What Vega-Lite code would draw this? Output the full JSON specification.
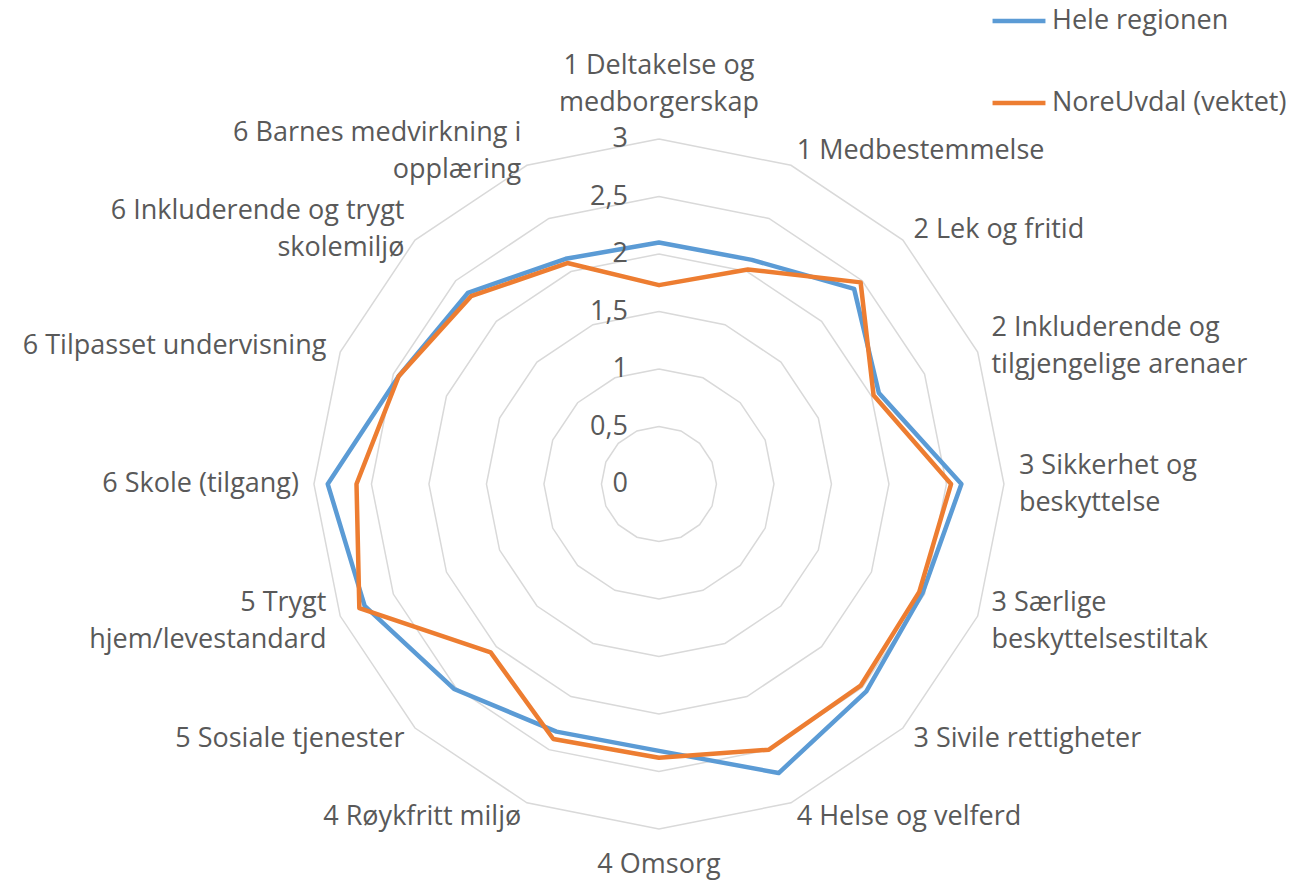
{
  "$schema": "https://vega.github.io/schema/vega-lite/v6.json",
  "width": 1311,
  "height": 880,
  "autosize": {"type": "none"},
  "padding": 0,
  "background": "white",
  "config": {
    "view": {"stroke": null},
    "font": "Open Sans",
    "legend": {
      "orient": "none",
      "legendX": 990,
      "legendY": -8,
      "symbolType": "stroke",
      "symbolSize": 2800,
      "symbolStrokeWidth": 4.5,
      "labelFontSize": 27,
      "labelFont": "Open Sans",
      "labelColor": "#595959",
      "labelOffset": 4,
      "rowPadding": 40,
      "labelLimit": 400
    }
  },
  "datasets": {
    "series": [
      {"k": 0, "series": "Hele regionen", "value": 2.10},
      {"k": 1, "series": "Hele regionen", "value": 2.11},
      {"k": 2, "series": "Hele regionen", "value": 2.40},
      {"k": 3, "series": "Hele regionen", "value": 2.07},
      {"k": 4, "series": "Hele regionen", "value": 2.63},
      {"k": 5, "series": "Hele regionen", "value": 2.48},
      {"k": 6, "series": "Hele regionen", "value": 2.55},
      {"k": 7, "series": "Hele regionen", "value": 2.72},
      {"k": 8, "series": "Hele regionen", "value": 2.32},
      {"k": 9, "series": "Hele regionen", "value": 2.33},
      {"k": 10, "series": "Hele regionen", "value": 2.52},
      {"k": 11, "series": "Hele regionen", "value": 2.77},
      {"k": 12, "series": "Hele regionen", "value": 2.88},
      {"k": 13, "series": "Hele regionen", "value": 2.45},
      {"k": 14, "series": "Hele regionen", "value": 2.35},
      {"k": 15, "series": "Hele regionen", "value": 2.12},
      {"k": 16, "series": "Hele regionen", "value": 2.10},
      {"k": 0, "series": "NoreUvdal (vektet)", "value": 1.73},
      {"k": 1, "series": "NoreUvdal (vektet)", "value": 2.02},
      {"k": 2, "series": "NoreUvdal (vektet)", "value": 2.48},
      {"k": 3, "series": "NoreUvdal (vektet)", "value": 2.02},
      {"k": 4, "series": "NoreUvdal (vektet)", "value": 2.54},
      {"k": 5, "series": "NoreUvdal (vektet)", "value": 2.45},
      {"k": 6, "series": "NoreUvdal (vektet)", "value": 2.48},
      {"k": 7, "series": "NoreUvdal (vektet)", "value": 2.50},
      {"k": 8, "series": "NoreUvdal (vektet)", "value": 2.38},
      {"k": 9, "series": "NoreUvdal (vektet)", "value": 2.40},
      {"k": 10, "series": "NoreUvdal (vektet)", "value": 2.07},
      {"k": 11, "series": "NoreUvdal (vektet)", "value": 2.82},
      {"k": 12, "series": "NoreUvdal (vektet)", "value": 2.63},
      {"k": 13, "series": "NoreUvdal (vektet)", "value": 2.45},
      {"k": 14, "series": "NoreUvdal (vektet)", "value": 2.31},
      {"k": 15, "series": "NoreUvdal (vektet)", "value": 2.08},
      {"k": 16, "series": "NoreUvdal (vektet)", "value": 1.73}
    ],
    "cats": [
      {"k": 0, "label": ["1 Deltakelse og", "medborgerskap"]},
      {"k": 1, "label": ["1 Medbestemmelse"]},
      {"k": 2, "label": ["2 Lek og fritid"]},
      {"k": 3, "label": ["2 Inkluderende og", "tilgjengelige arenaer"]},
      {"k": 4, "label": ["3 Sikkerhet og", "beskyttelse"]},
      {"k": 5, "label": ["3 Særlige", "beskyttelsestiltak"]},
      {"k": 6, "label": ["3 Sivile rettigheter"]},
      {"k": 7, "label": ["4 Helse og velferd"]},
      {"k": 8, "label": ["4 Omsorg"]},
      {"k": 9, "label": ["4 Røykfritt miljø"]},
      {"k": 10, "label": ["5 Sosiale tjenester"]},
      {"k": 11, "label": ["5 Trygt", "hjem/levestandard"]},
      {"k": 12, "label": ["6 Skole (tilgang)"]},
      {"k": 13, "label": ["6 Tilpasset undervisning"]},
      {"k": 14, "label": ["6 Inkluderende og trygt", "skolemiljø"]},
      {"k": 15, "label": ["6 Barnes medvirkning i", "opplæring"]}
    ],
    "rings": [
      {"k": 0, "r": [0.5, 1, 1.5, 2, 2.5, 3]},
      {"k": 1, "r": [0.5, 1, 1.5, 2, 2.5, 3]},
      {"k": 2, "r": [0.5, 1, 1.5, 2, 2.5, 3]},
      {"k": 3, "r": [0.5, 1, 1.5, 2, 2.5, 3]},
      {"k": 4, "r": [0.5, 1, 1.5, 2, 2.5, 3]},
      {"k": 5, "r": [0.5, 1, 1.5, 2, 2.5, 3]},
      {"k": 6, "r": [0.5, 1, 1.5, 2, 2.5, 3]},
      {"k": 7, "r": [0.5, 1, 1.5, 2, 2.5, 3]},
      {"k": 8, "r": [0.5, 1, 1.5, 2, 2.5, 3]},
      {"k": 9, "r": [0.5, 1, 1.5, 2, 2.5, 3]},
      {"k": 10, "r": [0.5, 1, 1.5, 2, 2.5, 3]},
      {"k": 11, "r": [0.5, 1, 1.5, 2, 2.5, 3]},
      {"k": 12, "r": [0.5, 1, 1.5, 2, 2.5, 3]},
      {"k": 13, "r": [0.5, 1, 1.5, 2, 2.5, 3]},
      {"k": 14, "r": [0.5, 1, 1.5, 2, 2.5, 3]},
      {"k": 15, "r": [0.5, 1, 1.5, 2, 2.5, 3]},
      {"k": 16, "r": [0.5, 1, 1.5, 2, 2.5, 3]}
    ],
    "ticks": [
      {"v": 0, "t": "0"},
      {"v": 0.5, "t": "0,5"},
      {"v": 1, "t": "1"},
      {"v": 1.5, "t": "1,5"},
      {"v": 2, "t": "2"},
      {"v": 2.5, "t": "2,5"},
      {"v": 3, "t": "3"}
    ]
  },
  "layer": [
    {
      "data": {"name": "rings"},
      "transform": [
        {"flatten": ["r"]},
        {"calculate": "datum.k * PI / 8", "as": "a"},
        {"calculate": "datum.r * sin(datum.a)", "as": "x"},
        {"calculate": "datum.r * cos(datum.a)", "as": "y"}
      ],
      "mark": {"type": "line", "color": "#d9d9d9", "strokeWidth": 1.5},
      "encoding": {
        "x": {"field": "x", "type": "quantitative", "scale": {"domain": [-5.73, 5.67], "nice": false, "zero": false}, "axis": null},
        "y": {"field": "y", "type": "quantitative", "scale": {"domain": [-3.443, 4.209], "nice": false, "zero": false}, "axis": null},
        "detail": {"field": "r", "type": "nominal"},
        "order": {"field": "k", "type": "quantitative"}
      }
    },
    {
      "data": {"name": "series"},
      "transform": [
        {"calculate": "datum.k * PI / 8", "as": "a"},
        {"calculate": "datum.value * sin(datum.a)", "as": "x"},
        {"calculate": "datum.value * cos(datum.a)", "as": "y"}
      ],
      "mark": {"type": "line", "strokeWidth": 4.5, "strokeJoin": "round", "strokeCap": "round"},
      "encoding": {
        "x": {"field": "x", "type": "quantitative"},
        "y": {"field": "y", "type": "quantitative"},
        "order": {"field": "k", "type": "quantitative"},
        "color": {
          "field": "series",
          "type": "nominal",
          "scale": {"domain": ["Hele regionen", "NoreUvdal (vektet)"], "range": ["#5b9bd5", "#ed7d31"]},
          "legend": {"title": null}
        }
      }
    },
    {
      "data": {"name": "ticks"},
      "transform": [
        {"calculate": "0", "as": "x"},
        {"calculate": "datum.v", "as": "y"}
      ],
      "mark": {"type": "text", "align": "right", "baseline": "middle", "dx": -31, "fontSize": 27, "color": "#595959"},
      "encoding": {
        "x": {"field": "x", "type": "quantitative"},
        "y": {"field": "y", "type": "quantitative"},
        "text": {"field": "t"}
      }
    },
    {
      "data": {"name": "cats"},
      "transform": [
        {"filter": "datum.k >= 1 && datum.k <= 7 && length(datum.label) == 1"},
        {"calculate": "datum.k * PI / 8", "as": "a"},
        {"calculate": "3.13 * sin(datum.a)", "as": "x"},
        {"calculate": "3.13 * cos(datum.a)", "as": "y"}
      ],
      "mark": {"type": "text", "align": "left", "baseline": "middle", "fontSize": 27, "lineHeight": 37, "color": "#595959"},
      "encoding": {
        "x": {"field": "x", "type": "quantitative"},
        "y": {"field": "y", "type": "quantitative"},
        "text": {"field": "label"}
      }
    },
    {
      "data": {"name": "cats"},
      "transform": [
        {"filter": "datum.k >= 1 && datum.k <= 7 && length(datum.label) == 2"},
        {"calculate": "datum.k * PI / 8", "as": "a"},
        {"calculate": "3.13 * sin(datum.a)", "as": "x"},
        {"calculate": "3.13 * cos(datum.a)", "as": "y"}
      ],
      "mark": {"type": "text", "align": "left", "baseline": "middle", "dy": -18.5, "fontSize": 27, "lineHeight": 37, "color": "#595959"},
      "encoding": {
        "x": {"field": "x", "type": "quantitative"},
        "y": {"field": "y", "type": "quantitative"},
        "text": {"field": "label"}
      }
    },
    {
      "data": {"name": "cats"},
      "transform": [
        {"filter": "datum.k >= 9 && length(datum.label) == 1"},
        {"calculate": "datum.k * PI / 8", "as": "a"},
        {"calculate": "3.13 * sin(datum.a)", "as": "x"},
        {"calculate": "3.13 * cos(datum.a)", "as": "y"}
      ],
      "mark": {"type": "text", "align": "right", "baseline": "middle", "fontSize": 27, "lineHeight": 37, "color": "#595959"},
      "encoding": {
        "x": {"field": "x", "type": "quantitative"},
        "y": {"field": "y", "type": "quantitative"},
        "text": {"field": "label"}
      }
    },
    {
      "data": {"name": "cats"},
      "transform": [
        {"filter": "datum.k >= 9 && length(datum.label) == 2"},
        {"calculate": "datum.k * PI / 8", "as": "a"},
        {"calculate": "3.13 * sin(datum.a)", "as": "x"},
        {"calculate": "3.13 * cos(datum.a)", "as": "y"}
      ],
      "mark": {"type": "text", "align": "right", "baseline": "middle", "dy": -18.5, "fontSize": 27, "lineHeight": 37, "color": "#595959"},
      "encoding": {
        "x": {"field": "x", "type": "quantitative"},
        "y": {"field": "y", "type": "quantitative"},
        "text": {"field": "label"}
      }
    },
    {
      "data": {"name": "cats"},
      "transform": [
        {"filter": "datum.k == 0"},
        {"calculate": "0", "as": "x"},
        {"calculate": "3.474", "as": "y"}
      ],
      "mark": {"type": "text", "align": "center", "baseline": "middle", "dy": -18.5, "fontSize": 27, "lineHeight": 37, "color": "#595959"},
      "encoding": {
        "x": {"field": "x", "type": "quantitative"},
        "y": {"field": "y", "type": "quantitative"},
        "text": {"field": "label"}
      }
    },
    {
      "data": {"name": "cats"},
      "transform": [
        {"filter": "datum.k == 8"},
        {"calculate": "0", "as": "x"},
        {"calculate": "-3.31", "as": "y"}
      ],
      "mark": {"type": "text", "align": "center", "baseline": "middle", "fontSize": 27, "lineHeight": 37, "color": "#595959"},
      "encoding": {
        "x": {"field": "x", "type": "quantitative"},
        "y": {"field": "y", "type": "quantitative"},
        "text": {"field": "label"}
      }
    }
  ]
}
